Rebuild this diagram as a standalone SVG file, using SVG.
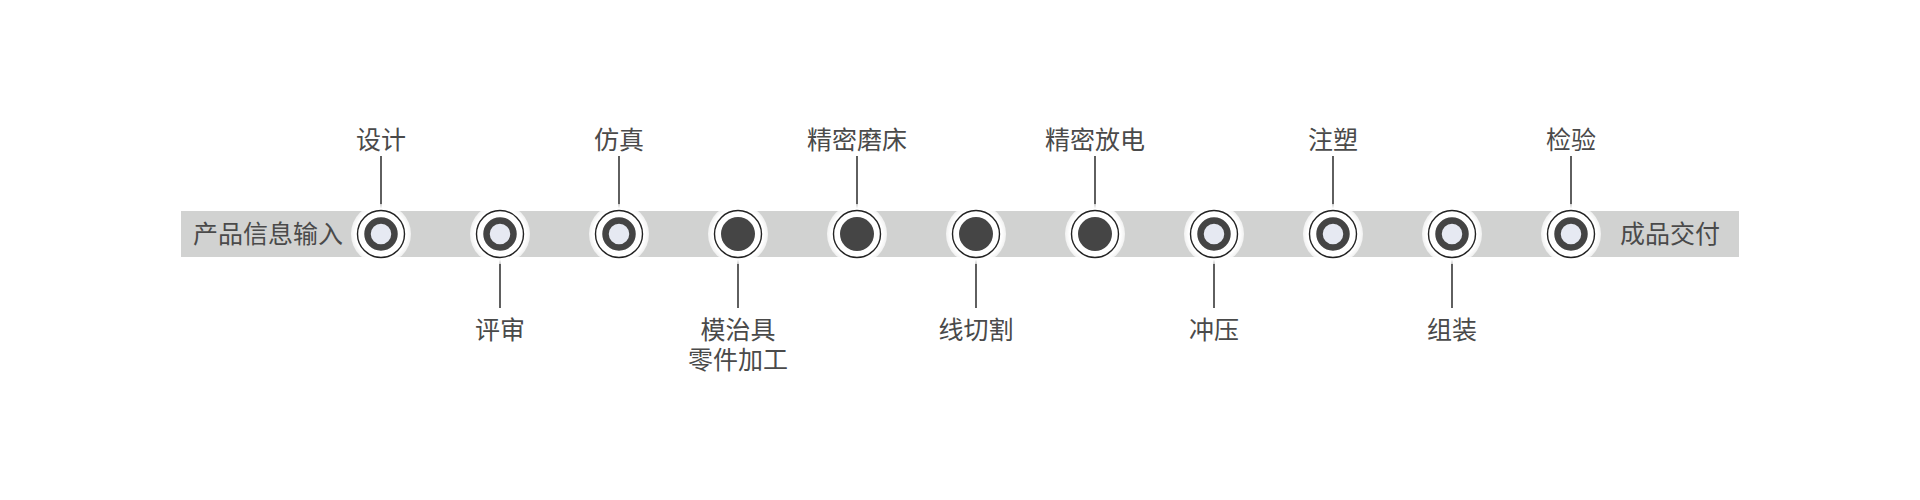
<svg xmlns="http://www.w3.org/2000/svg" width="1920" height="500" viewBox="0 0 1920 500">
<defs>
<radialGradient id="halo" cx="0.5" cy="0.5" r="0.5">
<stop offset="0.85" stop-color="#ffffff" stop-opacity="1"/>
<stop offset="1" stop-color="#ffffff" stop-opacity="0.7"/>
</radialGradient>
<g id="lightNode">
<circle r="30" fill="url(#halo)"/>
<circle r="23.5" fill="#ffffff" stroke="#222222" stroke-width="1.4"/>
<circle r="13.5" fill="#e6e9f2" stroke="#444444" stroke-width="6.5"/>
</g>
<g id="darkNode">
<circle r="30" fill="url(#halo)"/>
<circle r="23.5" fill="#ffffff" stroke="#222222" stroke-width="1.4"/>
<circle r="17" fill="#454545"/>
</g>
</defs>
<style>
text{font-family:"Noto Sans CJK SC","Noto Sans",sans-serif;font-size:25px;fill:#4a4a4a}
.c{text-anchor:middle}
.ln{stroke:#444444;stroke-width:1.7}
</style>
<rect width="1920" height="500" fill="#ffffff"/>
<rect id="band" x="181" y="211" width="1558" height="46" fill="#d1d2d1"/>
<text id="start" x="193" y="243">产品信息输入</text>
<text id="end" x="1620" y="243">成品交付</text>
<g id="connectors">
<line class="ln" x1="381" y1="156" x2="381" y2="211"/>
<line class="ln" x1="500" y1="257" x2="500" y2="308"/>
<line class="ln" x1="619" y1="156" x2="619" y2="211"/>
<line class="ln" x1="738" y1="257" x2="738" y2="308"/>
<line class="ln" x1="857" y1="156" x2="857" y2="211"/>
<line class="ln" x1="976" y1="257" x2="976" y2="308"/>
<line class="ln" x1="1095" y1="156" x2="1095" y2="211"/>
<line class="ln" x1="1214" y1="257" x2="1214" y2="308"/>
<line class="ln" x1="1333" y1="156" x2="1333" y2="211"/>
<line class="ln" x1="1452" y1="257" x2="1452" y2="308"/>
<line class="ln" x1="1571" y1="156" x2="1571" y2="211"/>
</g>
<g id="n1"><use href="#lightNode" x="381" y="234"/><text class="c" x="381" y="149">设计</text></g>
<g id="n2"><use href="#lightNode" x="500" y="234"/><text class="c" x="500" y="339">评审</text></g>
<g id="n3"><use href="#lightNode" x="619" y="234"/><text class="c" x="619" y="149">仿真</text></g>
<g id="n4"><use href="#darkNode" x="738" y="234"/><text class="c" x="738" y="339">模治具</text><text class="c" x="738" y="369">零件加工</text></g>
<g id="n5"><use href="#darkNode" x="857" y="234"/><text class="c" x="857" y="149">精密磨床</text></g>
<g id="n6"><use href="#darkNode" x="976" y="234"/><text class="c" x="976" y="339">线切割</text></g>
<g id="n7"><use href="#darkNode" x="1095" y="234"/><text class="c" x="1095" y="149">精密放电</text></g>
<g id="n8"><use href="#lightNode" x="1214" y="234"/><text class="c" x="1214" y="339">冲压</text></g>
<g id="n9"><use href="#lightNode" x="1333" y="234"/><text class="c" x="1333" y="149">注塑</text></g>
<g id="n10"><use href="#lightNode" x="1452" y="234"/><text class="c" x="1452" y="339">组装</text></g>
<g id="n11"><use href="#lightNode" x="1571" y="234"/><text class="c" x="1571" y="149">检验</text></g>
</svg>
